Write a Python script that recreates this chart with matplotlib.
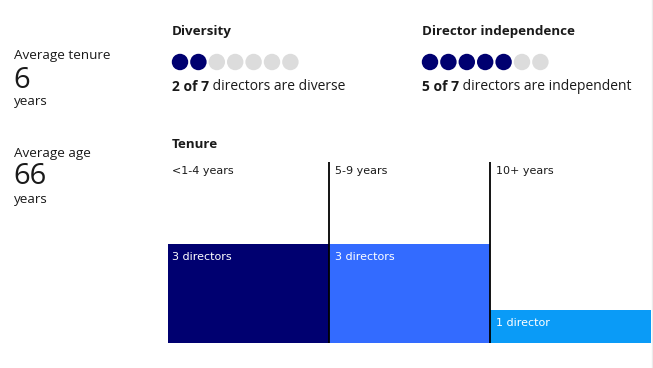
import matplotlib
matplotlib.use("Agg")
import matplotlib.pyplot as plt
from matplotlib.lines import Line2D

# ---- data ----
avg_tenure = "6"
avg_age = "66"
diversity_count = 2
independence_count = 5
total_directors = 7
tenure_categories = ["<1-4 years", "5-9 years", "10+ years"]
tenure_counts = [3, 3, 1]
tenure_labels = ["3 directors", "3 directors", "1 director"]
bar_colors = ["#000070", "#336BFF", "#0A9BF7"]
dot_on = "#000070"
dot_off = "#DCDCDC"

W, H = 653, 368
fig = plt.figure(figsize=(W / 100, H / 100), dpi=100)
fig.patch.set_facecolor("white")

# overlay axes in pixel coordinates
ov = fig.add_axes([0, 0, 1, 1])
ov.set_xlim(0, W)
ov.set_ylim(H, 0)
ov.axis("off")

head_font = ["Open Sans", "DejaVu Sans"]
txt = "#1a1a1a"

# left stats
ov.text(14, 55, "Average tenure", fontsize=9.7, family=head_font, color=txt, va="center")
ov.text(13, 80, avg_tenure, fontsize=21, family=head_font, color=txt, va="center")
ov.text(14, 102, "years", fontsize=9.7, family=head_font, color=txt, va="center")
ov.text(14, 153, "Average age", fontsize=9.7, family=head_font, color=txt, va="center")
ov.text(13, 177, avg_age, fontsize=21, family=head_font, color=txt, va="center")
ov.text(14, 200, "years", fontsize=9.7, family=head_font, color=txt, va="center")

def dot_block(x0, title, count, suffix):
    ov.text(x0, 31, title, fontsize=9.6, fontweight="bold", family=head_font,
            color=txt, va="center")
    xs = [x0 + 8 + 18.4 * i for i in range(total_directors)]
    cols = [dot_on if i < count else dot_off for i in range(total_directors)]
    ov.scatter(xs, [62] * total_directors, s=140, c=cols, linewidths=0)
    t = ov.text(x0, 87, f"{count} of {total_directors}", fontsize=10, fontweight="bold",
                family=head_font, color=txt, va="center")
    ov.annotate(" " + suffix, xycoords=t, xy=(1, 0), va="bottom", fontsize=10,
                family=head_font, color=txt)

dot_block(172, "Diversity", diversity_count, "directors are diverse")
dot_block(422, "Director independence", independence_count, "directors are independent")

ov.text(172, 144, "Tenure", fontsize=9.6, fontweight="bold", family=head_font,
        color=txt, va="center")

# faint frame edge
ov.add_line(Line2D([652, 652], [0, 368], color="#EBEBEB", lw=1))

# tenure bar chart
x_left, x_right = 168, 651
y_top, y_bot = 162, 343
ax = fig.add_axes([x_left / W, 1 - y_bot / H, (x_right - x_left) / W, (y_bot - y_top) / H])
ax.set_xlim(0, len(tenure_counts))
ax.set_ylim(0, 5.48)
ax.axis("off")
ax.bar(range(len(tenure_counts)), tenure_counts, width=1, align="edge",
       color=bar_colors, linewidth=0)
for i in range(1, len(tenure_counts)):
    ax.axvline(i, color="black", lw=1.3)
bar_font = ["DejaVu Sans"]
for i, (cat, cnt, lab) in enumerate(zip(tenure_categories, tenure_counts, tenure_labels)):
    pad = 0.025 if i == 0 else 0.04
    ax.text(i + pad, 5.22, cat, fontsize=8, family=bar_font, color=txt, va="center")
    ax.text(i + pad, cnt - 0.4, lab, fontsize=8, family=bar_font, color="white", va="center")

fig.savefig("out.png", dpi=100, facecolor="white")
